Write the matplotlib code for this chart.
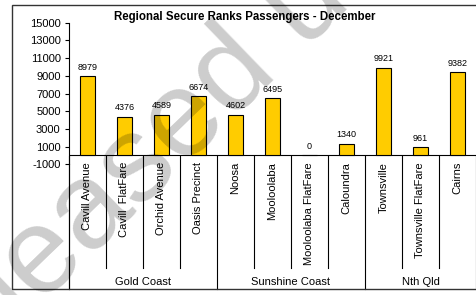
import numpy as np
import matplotlib.pyplot as plt
import matplotlib.transforms as mtransforms
from matplotlib.patches import Rectangle

plt.rcParams['font.family'] = ['Liberation Sans', 'DejaVu Sans']

categories = ['Cavill Avenue', 'Cavill  FlatFare', 'Orchid Avenue', 'Oasis Precinct',
              'Noosa', 'Mooloolaba', 'Mooloolaba FlatFare', 'Caloundra',
              'Townsville', 'Townsville FlatFare', 'Cairns']
passengers = [8979, 4376, 4589, 6674, 4602, 6495, 0, 1340, 9921, 961, 9382]
groups = ['Gold Coast', 'Sunshine Coast', 'Nth Qld']
group_sizes = [4, 4, 3]
yticks = list(range(-1000, 15001, 2000))

W, H = 477, 295
fig = plt.figure(figsize=(W / 100, H / 100), dpi=100)

def fy(py):
    return 1 - py / H

ax = fig.add_axes([69 / W, fy(164.3), (476 - 69) / W, (164.3 - 22.7) / H])
ax.patch.set_alpha(0)
x = np.arange(len(categories))
bars = ax.bar(x, passengers, width=0.4, color='#FFCC00', edgecolor='black', linewidth=0.8, zorder=3)
for xi, v in zip(x, passengers):
    ax.text(xi, v + 500, str(v), ha='center', va='bottom', fontsize=6.5, zorder=4)

ax.set_xlim(-0.5, len(categories) - 0.5)
ax.set_ylim(-1000, 15000)
ax.set_yticks(yticks)
ax.set_yticklabels([str(t) for t in yticks], fontsize=8)
ax.tick_params(axis='y', length=3, width=0.8, pad=3)
ax.set_xticks([])
for s in ['top', 'right', 'bottom']:
    ax.spines[s].set_visible(False)
ax.spines['left'].set_linewidth(0.8)
ax.spines['left'].set_bounds(-1000, 15000)
ax.axhline(0, color='black', linewidth=0.8, zorder=2)

# category labels and separators below the axis
trans = mtransforms.blended_transform_factory(ax.transData, fig.transFigure)
for xi, name in zip(x, categories):
    ax.text(xi, fy(162), name, rotation=90, ha='center', va='top', fontsize=8, transform=trans)

bounds = np.cumsum([0] + group_sizes) - 0.5
for b in np.arange(-0.5, len(categories), 1.0):
    if b in bounds:
        y1 = fy(289)
    else:
        y1 = fy(268)
    ax.plot([b, b], [fy(155.7), y1], color='black', linewidth=0.8, transform=trans, clip_on=False)
# left line continues to the frame bottom
ax.plot([-0.5, -0.5], [fy(164.3), fy(289)], color='black', linewidth=0.8, transform=trans, clip_on=False)

for g, a, b in zip(groups, bounds[:-1], bounds[1:]):
    ax.text((a + b) / 2, fy(282), g, ha='center', va='center', fontsize=8, transform=trans)

fig.patches.append(Rectangle((12 / W, fy(289)), 1.0, (289 - 5) / H, transform=fig.transFigure,
                             fill=False, edgecolor='#333333', linewidth=1.0))

# watermark, semi transparent over the bars
fig.text(-92 / W, fy(433), 'Released under RTI', fontsize=88, color='black', alpha=0.2,
         rotation=44, ha='left', va='baseline', rotation_mode='anchor', zorder=1)

fig.text(245 / W, fy(17), 'Regional Secure Ranks Passengers - December', ha='center', va='center',
         fontsize=8.3, fontweight='bold', zorder=2)

fig.savefig('out.png', dpi=100)
